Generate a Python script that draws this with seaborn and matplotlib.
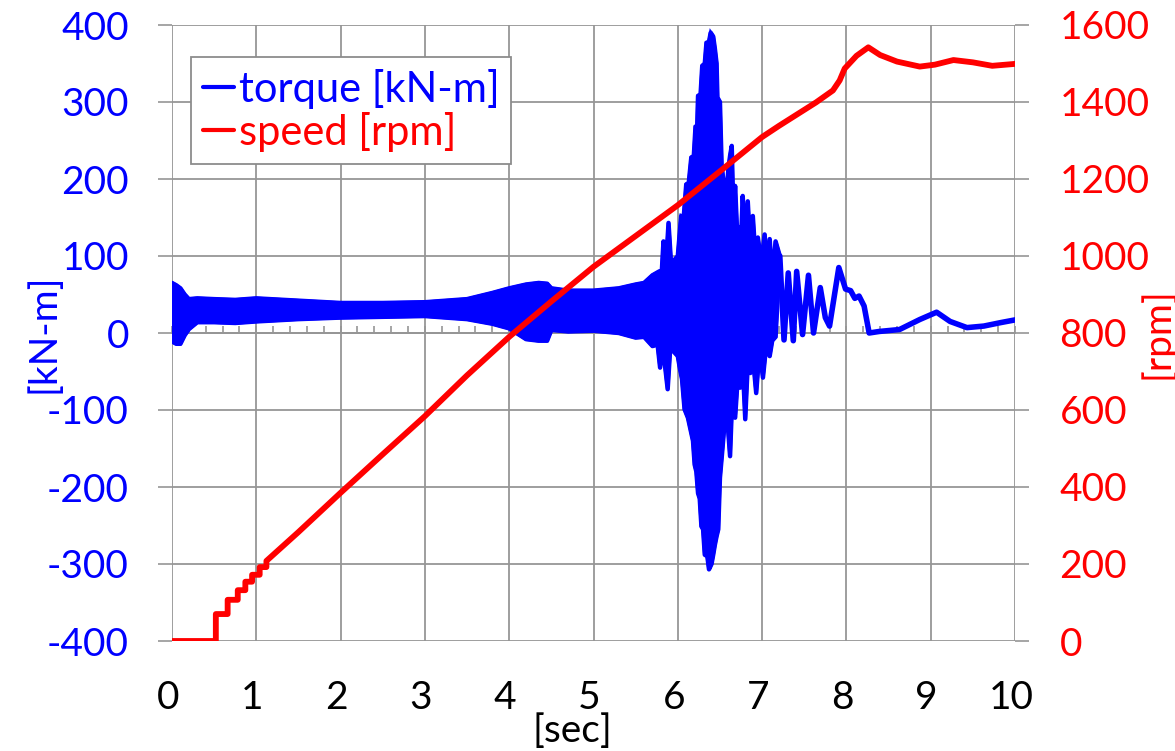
import numpy as np
import matplotlib
matplotlib.use("Agg")
import matplotlib.pyplot as plt
import matplotlib.transforms as mtransforms
from matplotlib.lines import Line2D
from matplotlib.ticker import MultipleLocator
import seaborn as sns

# ---------------- data ----------------
# speed [rpm] vs time [sec]
speed_t = [0.0, 0.52, 0.52, 0.66, 0.66, 0.78, 0.78, 0.87, 0.87, 0.95, 0.95, 1.04, 1.04,
           1.12, 1.12, 1.5, 2.0, 2.5, 3.0, 3.5, 4.0, 4.5, 5.0, 5.5, 6.0, 6.5, 7.0, 7.2,
           7.64, 7.84, 7.92, 7.98, 8.12, 8.26, 8.4, 8.6, 8.87, 9.05, 9.27, 9.5, 9.73, 10.0]
speed_rpm = [0, 0, 70, 70, 107, 107, 132, 132, 154, 154, 172, 172, 192,
             192, 208, 283, 385, 485, 584, 690, 790, 882, 972, 1052, 1132, 1220, 1309, 1338,
             1399, 1430, 1456, 1487, 1520, 1542, 1522, 1505, 1492, 1497, 1509, 1503, 1494, 1499]

# torque [kN-m]: upper envelope of the dense oscillation
torque_upper_t = [0.0, 0.05, 0.1, 0.15, 0.2, 0.3, 0.5, 0.75, 1.0, 1.5, 2.0, 2.5, 3.0, 3.5,
                  3.8, 4.0, 4.2, 4.35, 4.45, 4.5, 4.7, 5.0, 5.3, 5.5, 5.6, 5.7, 5.78, 5.8,
                  5.83, 5.85, 5.89, 5.92, 5.96, 6.0, 6.04, 6.07, 6.1, 6.13, 6.16, 6.19, 6.21,
                  6.23, 6.24, 6.27, 6.29, 6.32, 6.34, 6.37, 6.39, 6.42, 6.44, 6.46, 6.47, 6.5,
                  6.52, 6.55, 6.56, 6.58, 6.6, 6.62, 6.64, 6.66, 6.68, 6.7, 6.72, 6.75, 6.77,
                  6.8, 6.83, 6.86, 6.89, 6.92, 6.95, 6.99, 7.03, 7.06, 7.09, 7.12, 7.16, 7.21]
torque_upper = [65, 62, 58, 50, 44, 45, 44, 43, 45, 42, 39, 39, 40, 44,
                52, 58, 63, 65, 64, 58, 55, 55, 58, 63, 65, 75, 80, 60,
                119, 70, 143, 90, 95, 100, 152, 150, 193, 195, 228, 230, 268,
                268, 308, 310, 347, 350, 377, 378, 390, 385, 369, 350, 306, 300,
                217, 190, 178, 185, 213, 230, 243, 150, 191, 140, 135, 120, 178,
                120, 171, 110, 152, 100, 124, 90, 128, 80, 122, 70, 119, 100]
# torque [kN-m]: lower envelope of the dense oscillation
torque_lower_t = [0.0, 0.05, 0.1, 0.15, 0.2, 0.3, 0.5, 0.75, 1.0, 1.5, 2.0, 2.5, 3.0, 3.5,
                  3.8, 4.0, 4.2, 4.35, 4.45, 4.5, 4.7, 5.0, 5.3, 5.5, 5.6, 5.7, 5.76, 5.79,
                  5.82, 5.88, 5.91, 5.95, 6.0, 6.02, 6.05, 6.08, 6.12, 6.16, 6.18, 6.2, 6.22,
                  6.24, 6.26, 6.28, 6.3, 6.32, 6.35, 6.37, 6.4, 6.42, 6.44, 6.46, 6.48, 6.5,
                  6.53, 6.56, 6.58, 6.62, 6.64, 6.68, 6.71, 6.74, 6.77, 6.8, 6.83, 6.86, 6.89,
                  6.93, 6.97, 7.01, 7.05, 7.09, 7.12, 7.16, 7.21]
torque_lower = [-11, -14, -14, -3, 5, 14, 14, 13, 15, 18, 20, 21, 22, 18,
                12, 6, -8, -10, -10, 4, 2, 3, 0, -6, -5, -17, -15, -45,
                -15, -73, -20, -24, -30, -43, -60, -99, -110, -130, -140, -171, -180,
                -208, -215, -251, -255, -288, -290, -307, -300, -288, -275, -264, -255, -188,
                -150, -110, -100, -160, -100, -110, -60, -71, -40, -112, -40, -52, -30,
                -78, -20, -58, -15, -30, -10, -5, 100]
# torque [kN-m]: slow tail after the burst (single trace)
torque_tail_t = [7.21, 7.26, 7.31, 7.37, 7.41, 7.48, 7.55, 7.61, 7.69, 7.75, 7.80, 7.91,
                 7.99, 8.05, 8.10, 8.15, 8.21, 8.27, 8.39, 8.63, 8.87, 9.07, 9.23, 9.43,
                 9.63, 9.83, 10.0]
torque_tail = [100, -9, 78, -10, 80, -2, 75, 0, 59, 20, 9, 85,
               57, 55, 45, 48, 35, 0, 2, 4.5, 17.5, 27, 15, 7,
               9, 13.5, 17]

x_ticks = [0, 1, 2, 3, 4, 5, 6, 7, 8, 9, 10]
torque_ticks = [-400, -300, -200, -100, 0, 100, 200, 300, 400]
speed_ticks = [0, 200, 400, 600, 800, 1000, 1200, 1400, 1600]

BLUE = "#0000FF"
RED = "#FF0000"
GRID = "#969696"

# ---------------- figure ----------------
sns.set_style("white")
plt.rcParams["font.family"] = ["Lato", "DejaVu Sans"]
FS = 28

fig = plt.figure(figsize=(11.75, 7.51), dpi=100)
ax = fig.add_axes([172 / 1175, 1 - 641 / 751, (1015 - 172) / 1175, (641 - 25) / 751])
ax2 = ax.twinx()

# torque: dense band + edges + slow tail
poly_x = np.concatenate([torque_upper_t, torque_lower_t[::-1]])
poly_y = np.concatenate([torque_upper, torque_lower[::-1]])
ax.fill(poly_x, poly_y, color=BLUE, lw=2.5, zorder=3)
sns.lineplot(x=torque_upper_t, y=torque_upper, ax=ax, color=BLUE, lw=3.2,
             sort=False, estimator=None, zorder=3)
sns.lineplot(x=torque_lower_t, y=torque_lower, ax=ax, color=BLUE, lw=3.2,
             sort=False, estimator=None, zorder=3)
sns.lineplot(x=torque_tail_t, y=torque_tail, ax=ax, color=BLUE, lw=4.0,
             sort=False, estimator=None, zorder=3)

# speed
sns.lineplot(x=speed_t, y=speed_rpm, ax=ax2, color=RED, lw=4.2,
             sort=False, estimator=None, zorder=3)

# axes ranges and ticks
ax.set_xlim(0, 10)
ax.set_ylim(-400, 400)
ax2.set_ylim(0, 1600)
ax.set_xticks(x_ticks)
ax.set_yticks(torque_ticks)
ax2.set_yticks(speed_ticks)
ax.set_xticklabels([str(v) for v in x_ticks])
ax.set_yticklabels([str(v) for v in torque_ticks])
ax2.set_yticklabels([str(v) for v in speed_ticks])
ax.set_xlabel("")
ax.set_ylabel("")
ax2.set_ylabel("")

ax.grid(True, color=GRID, lw=1.3)
ax.set_axisbelow(True)
ax2.grid(False)
for a in (ax, ax2):
    for s in a.spines.values():
        s.set_visible(False)

ax.tick_params(axis="y", colors=BLUE, labelsize=FS, length=10, width=1.2,
               direction="out", pad=21)
ax.tick_params(axis="y", color=GRID)
ax2.tick_params(axis="y", colors=RED, labelsize=FS, length=10, width=1.2,
                direction="out", pad=22)
ax2.tick_params(axis="y", color=GRID)
ax.tick_params(axis="x", colors="black", labelsize=FS, length=0, pad=28)
for lab in ax.get_xticklabels():
    lab.set_transform(lab.get_transform() +
                      mtransforms.ScaledTranslation(-4 / 100, 0, fig.dpi_scale_trans))

# horizontal axis line at torque = 0 with minor ticks
sec = ax.secondary_xaxis(0.5)
sec.set_xticks([])
sec.xaxis.set_minor_locator(MultipleLocator(0.2))
sec.tick_params(which="minor", direction="out", length=5, width=1.2, color=GRID)
for k, s in sec.spines.items():
    s.set_visible(k == "bottom")
sec.spines["bottom"].set_color(GRID)
sec.spines["bottom"].set_linewidth(1.3)

# axis titles
fig.text(43 / 1175, 1 - 333 / 751, "[kN-m]", color=BLUE, fontsize=FS,
         rotation=90, ha="center", va="center")
fig.text(1157 / 1175, 1 - 333 / 751, "[rpm]", color=RED, fontsize=FS,
         rotation=90, ha="center", va="center")
fig.text(572 / 1175, 1.5 / 751, "[sec]", color="black", fontsize=FS,
         ha="center", va="bottom")

# legend
handles = [Line2D([], [], color=BLUE, lw=3), Line2D([], [], color=RED, lw=3)]
leg = ax2.legend(handles, ["torque [kN-m]", "speed [rpm]"], loc="upper left",
                 bbox_to_anchor=(0.0225, 0.948), borderaxespad=0, frameon=True,
                 fancybox=False, framealpha=1, edgecolor="#8c8c8c",
                 handlelength=0.75, handletextpad=0.12, borderpad=0.28,
                 labelspacing=0.08, fontsize=30, labelcolor="linecolor")
leg.get_frame().set_linewidth(1.3)
leg.set_zorder(10)

fig.savefig("out.png", dpi=100)
